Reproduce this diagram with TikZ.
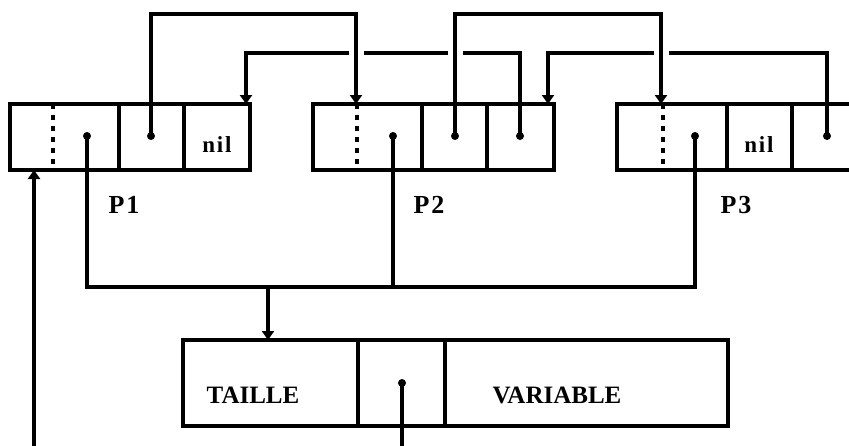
\documentclass[tikz,border=0pt]{standalone}
\usepackage{fontspec}
\setmainfont{Liberation Serif}
\usetikzlibrary{arrows.meta,calc}
\begin{document}
\begin{tikzpicture}[x=1pt,y=-1pt,
  cell/.style={draw,line width=3.2pt,rectangle,inner sep=0pt,outer sep=0pt,anchor=north west,minimum height=66pt},
  bcell/.style={cell,minimum height=86pt},
  dot/.style={circle,fill,inner sep=0pt,minimum size=8pt},
  line/.style={line width=3.2pt},
  ptr/.style={line,-{Triangle[width=12pt,length=9pt]}},
  dots/.style={line width=3.2pt,dash pattern=on 5pt off 6pt},
  lab/.style={font=\fontsize{25}{25}\selectfont\bfseries,inner sep=0pt},
  plab/.style={font=\fontsize{26}{26}\selectfont\bfseries\addfontfeature{LetterSpace=8},inner sep=0pt},
  nil/.style={font=\fontsize{23}{23}\selectfont\bfseries\addfontfeature{LetterSpace=8},inner sep=0pt}]
\clip (0,0) rectangle (849,445);
\fill[white] (0,0) rectangle (849,445);
% records
\node[cell,minimum width=109pt] (p1a) at (10,104) {};
\node[cell,minimum width=65pt] (p1b) at (119,104) {};
\node[cell,minimum width=66pt] (p1c) at (184,104) {};
\node[cell,minimum width=109pt] (p2a) at (313,104) {};
\node[cell,minimum width=65pt] (p2b) at (422,104) {};
\node[cell,minimum width=67pt] (p2c) at (487,104) {};
\node[cell,minimum width=110pt] (p3a) at (617,104) {};
\node[cell,minimum width=65pt] (p3b) at (727,104) {};
\node[cell,minimum width=80pt] (p3c) at (792,104) {};
\node[bcell,minimum width=175pt] (q1) at (183,340) {};
\node[bcell,minimum width=87pt] (q2) at (358,340) {};
\node[bcell,minimum width=283pt] (q3) at (445,340) {};
% dotted separators
\draw[dots] ($(p1a.north west)+(43,0)$) -- ($(p1a.south west)+(43,0)$);
\draw[dots] ($(p2a.north west)+(44,0)$) -- ($(p2a.south west)+(44,0)$);
\draw[dots] ($(p3a.north west)+(46,0)$) -- ($(p3a.south west)+(46,0)$);
% dots
\node[dot] (d1a) at (87,136) {};
\node[dot] (d1b) at (151,136) {};
\node[dot] (d2a) at (393,136) {};
\node[dot] (d2b) at (455,136) {};
\node[dot] (d2c) at (520,136) {};
\node[dot] (d3a) at (695,136) {};
\node[dot] (d3c) at (827,136) {};
\node[dot] (dq) at (402,383) {};
% labels
\node[nil] (n1) at (217,145) {nil};
\node[nil] (n3) at (759,145) {nil};
\node[plab] (l1) at (124,205) {P1};
\node[plab] (l2) at (429,205) {P2};
\node[plab] (l3) at (736,205) {P3};
\node[lab] (lt) at (253,395) {TAILLE};
\node[lab] (lv) at (557,395) {VARIABLE};
% entry coordinates
\coordinate (hi) at (0,14);
\coordinate (lo) at (0,53);
\coordinate (bus) at (0,287);
\coordinate (t1) at (356,104);
\coordinate (t2) at (246,104);
\coordinate (t3) at (661,104);
\coordinate (t4) at (548,104);
\coordinate (bj) at (268,287);
\coordinate (in) at (34,450);
\coordinate (out) at (402,450);
% back pointers (lower level)
\draw[ptr] (d2c.center) -- (d2c |- lo) -| (t2);
\draw[ptr] (d3c.center) -- (d3c |- lo) -| (t4);
% gaps at crossings
\foreach \c in {t1,d2b,t3}{
  \fill[white] ($(\c |- lo)+(-7.5,-3)$) rectangle ($(\c |- lo)+(7.5,3)$);
}
% forward pointers (upper level)
\draw[ptr] (d1b.center) -- (d1b |- hi) -| (t1);
\draw[ptr] (d2b.center) -- (d2b |- hi) -| (t3);
% bus to bottom record
\draw[line] (d1a.center) -- (d1a |- bus) -- (d3a |- bus) -- (d3a.center);
\draw[line] (d2a.center) -- (d2a |- bus);
\draw[ptr] (bj) -- (bj |- q1.north);
% other connectors
\draw[ptr] (in) -- (in |- p1a.south);
\draw[line] (dq.center) -- (out);
\end{tikzpicture}
\end{document}
